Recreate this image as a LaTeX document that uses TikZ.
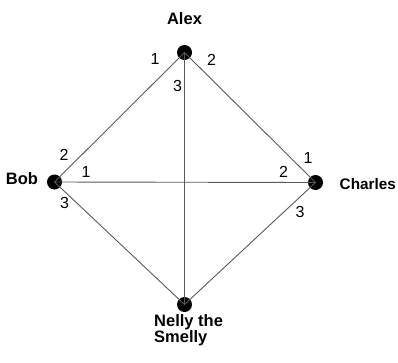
\documentclass[tikz,border=0pt]{standalone}
\usepackage{fontspec}
\setmainfont{Liberation Sans}
\begin{document}
\begin{tikzpicture}[x=1pt,y=-1pt,
  dotnode/.style={circle,fill=black,inner sep=0pt,minimum size=15pt},
  linkline/.style={draw=black!65,line width=0.9pt},
  lbl/.style={font=\fontsize{16.5}{15}\selectfont\bfseries,anchor=base,inner sep=0pt},
  num/.style={font=\fontsize{16}{16}\selectfont,anchor=base,inner sep=0pt}]
\useasboundingbox (0,0) rectangle (398,362);
\node[dotnode] (A) at (184.5,52.5) {};
\node[dotnode] (B) at (54.5,182) {};
\node[dotnode] (C) at (315.5,182.5) {};
\node[dotnode] (N) at (184.5,304.5) {};
\draw[linkline] (A.center) -- (B.center);
\draw[linkline] (A.center) -- (C.center);
\draw[linkline] (A.center) -- (N.center);
\draw[linkline] (B.center) -- (C.center);
\draw[linkline] (B.center) -- (N.center);
\draw[linkline] (C.center) -- (N.center);
\node[lbl] (la) at (184.5,24) {Alex};
\node[lbl] (lb) at (22,184) {Bob};
\node[lbl,anchor=base west,font=\fontsize{15.3}{15}\selectfont\bfseries] (lc) at (339.5,189) {Charles};
\node[lbl,anchor=base west,align=left] (ln) at (154,342.5) {Nelly the\\Smelly};
\node[num] (a1) at (155,64) {1};
\node[num] (a2) at (211.5,65) {2};
\node[num] (a3) at (177.5,91.5) {3};
\node[num] (b2) at (64,160) {2};
\node[num] (b1) at (86,177.5) {1};
\node[num] (b3) at (64.5,208) {3};
\node[num] (c1) at (308,163) {1};
\node[num] (c2) at (283.5,177.5) {2};
\node[num] (c3) at (300,217.5) {3};
\end{tikzpicture}
\end{document}
